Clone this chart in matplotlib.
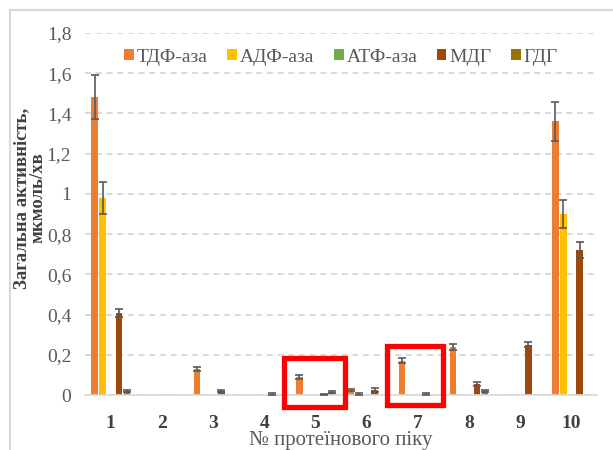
import numpy as np
import matplotlib.pyplot as plt
from matplotlib.patches import Rectangle

plt.rcParams['font.family'] = ['Liberation Serif', 'DejaVu Serif']

peaks = ['1', '2', '3', '4', '5', '6', '7', '8', '9', '10']
series = ['ТДФ-аза', 'АДФ-аза', 'АТФ-аза', 'МДГ', 'ГДГ']
colors = ['#ED7D31', '#FFC000', '#70AD47', '#9E480E', '#997300']

tdf = [1.48, 0, 0.13, 0, 0.09, 0.025, 0.17, 0.24, 0, 1.36]
adf = [0.98, 0, 0, 0, 0, 0.005, 0, 0, 0, 0.90]
atf = [0, 0, 0, 0, 0, 0, 0, 0, 0, 0]
mdg = [0.41, 0, 0.02, 0.005, 0.004, 0.025, 0.005, 0.055, 0.25, 0.72]
gdg = [0.02, 0, 0, 0, 0.015, 0, 0, 0.02, 0, 0]

tdf_err = [0.11, 0, 0.01, 0, 0.01, 0.005, 0.012, 0.015, 0, 0.095]
adf_err = [0.08, 0, 0, 0, 0, 0.003, 0, 0, 0, 0.07]
atf_err = [0, 0, 0, 0, 0, 0, 0, 0, 0, 0]
mdg_err = [0.02, 0, 0.005, 0.003, 0.002, 0.008, 0.003, 0.012, 0.012, 0.04]
gdg_err = [0.005, 0, 0, 0, 0.004, 0, 0, 0.005, 0, 0]

values = [tdf, adf, atf, mdg, gdg]
errors = [tdf_err, adf_err, atf_err, mdg_err, gdg_err]

fig = plt.figure(figsize=(6.13, 4.5), dpi=100)
ax = fig.add_axes([0.139, 0.122, 0.835, 0.805])

x = np.arange(len(peaks))
step = 0.157
for i in range(5):
    pos = x + (i - 2) * step
    ax.bar(pos, values[i], width=0.13, color=colors[i], label=series[i], zorder=2)
    v = np.array(values[i])
    e = np.array(errors[i])
    m = e > 0
    if m.any():
        ax.errorbar(pos[m], v[m], yerr=e[m], fmt='none', ecolor='#595959',
                    elinewidth=1.2, capsize=3, capthick=1.2, zorder=3)

ax.set_ylim(0, 1.8)
ax.set_xlim(-0.5, 9.5)
ax.set_yticks(np.arange(0, 1.81, 0.2))
ax.set_yticklabels(['0', '0,2', '0,4', '0,6', '0,8', '1', '1,2', '1,4', '1,6', '1,8'])
ax.set_xticks(x)
ax.set_xticklabels(peaks, fontweight='bold')
ax.tick_params(axis='y', length=0, labelsize=14, labelcolor='#595959', pad=10)
ax.tick_params(axis='x', length=0, labelsize=14, labelcolor='#404040', pad=14)
ax.grid(axis='y', color='#D0D0D0', linestyle=(0, (4, 3)), linewidth=1.1, zorder=0)
for s in ['top', 'right', 'left']:
    ax.spines[s].set_visible(False)
ax.spines['bottom'].set_color('#D9D9D9')
ax.spines['bottom'].set_linewidth(1.2)

ax.set_xlabel('№ протеїнового піку', fontsize=15, color='#595959')
ax.xaxis.set_label_coords(0.5, -0.1)
fig.text(0.048, 0.56, 'Загальна активність,\nмкмоль/хв', rotation=90, ha='center',
         va='center', fontsize=13.5, fontweight='bold', color='#404040',
         linespacing=0.95)

leg = ax.legend(loc='upper center', bbox_to_anchor=(0.5, 1.005), ncol=5, frameon=False,
                fontsize=14, handlelength=0.5, handleheight=0.5, handletextpad=0.15,
                columnspacing=1.0)
for t in leg.get_texts():
    t.set_color('#595959')

# red highlight boxes
for x0, x1, y0, y1 in [(3.39, 4.57, -0.06, 0.184), (5.39, 6.49, -0.05, 0.244)]:
    ax.add_patch(Rectangle((x0, y0), x1 - x0, y1 - y0, fill=False, edgecolor='#FF0000',
                           linewidth=3.8, clip_on=False, zorder=5))

# chart frame
fig.patches.append(Rectangle((10 / 613, -0.1), 1.2, 1 - 10 / 450 + 0.1, fill=False,
                             edgecolor='#D9D9D9', linewidth=1.5,
                             transform=fig.transFigure, figure=fig))

fig.savefig('out.png', dpi=100)
